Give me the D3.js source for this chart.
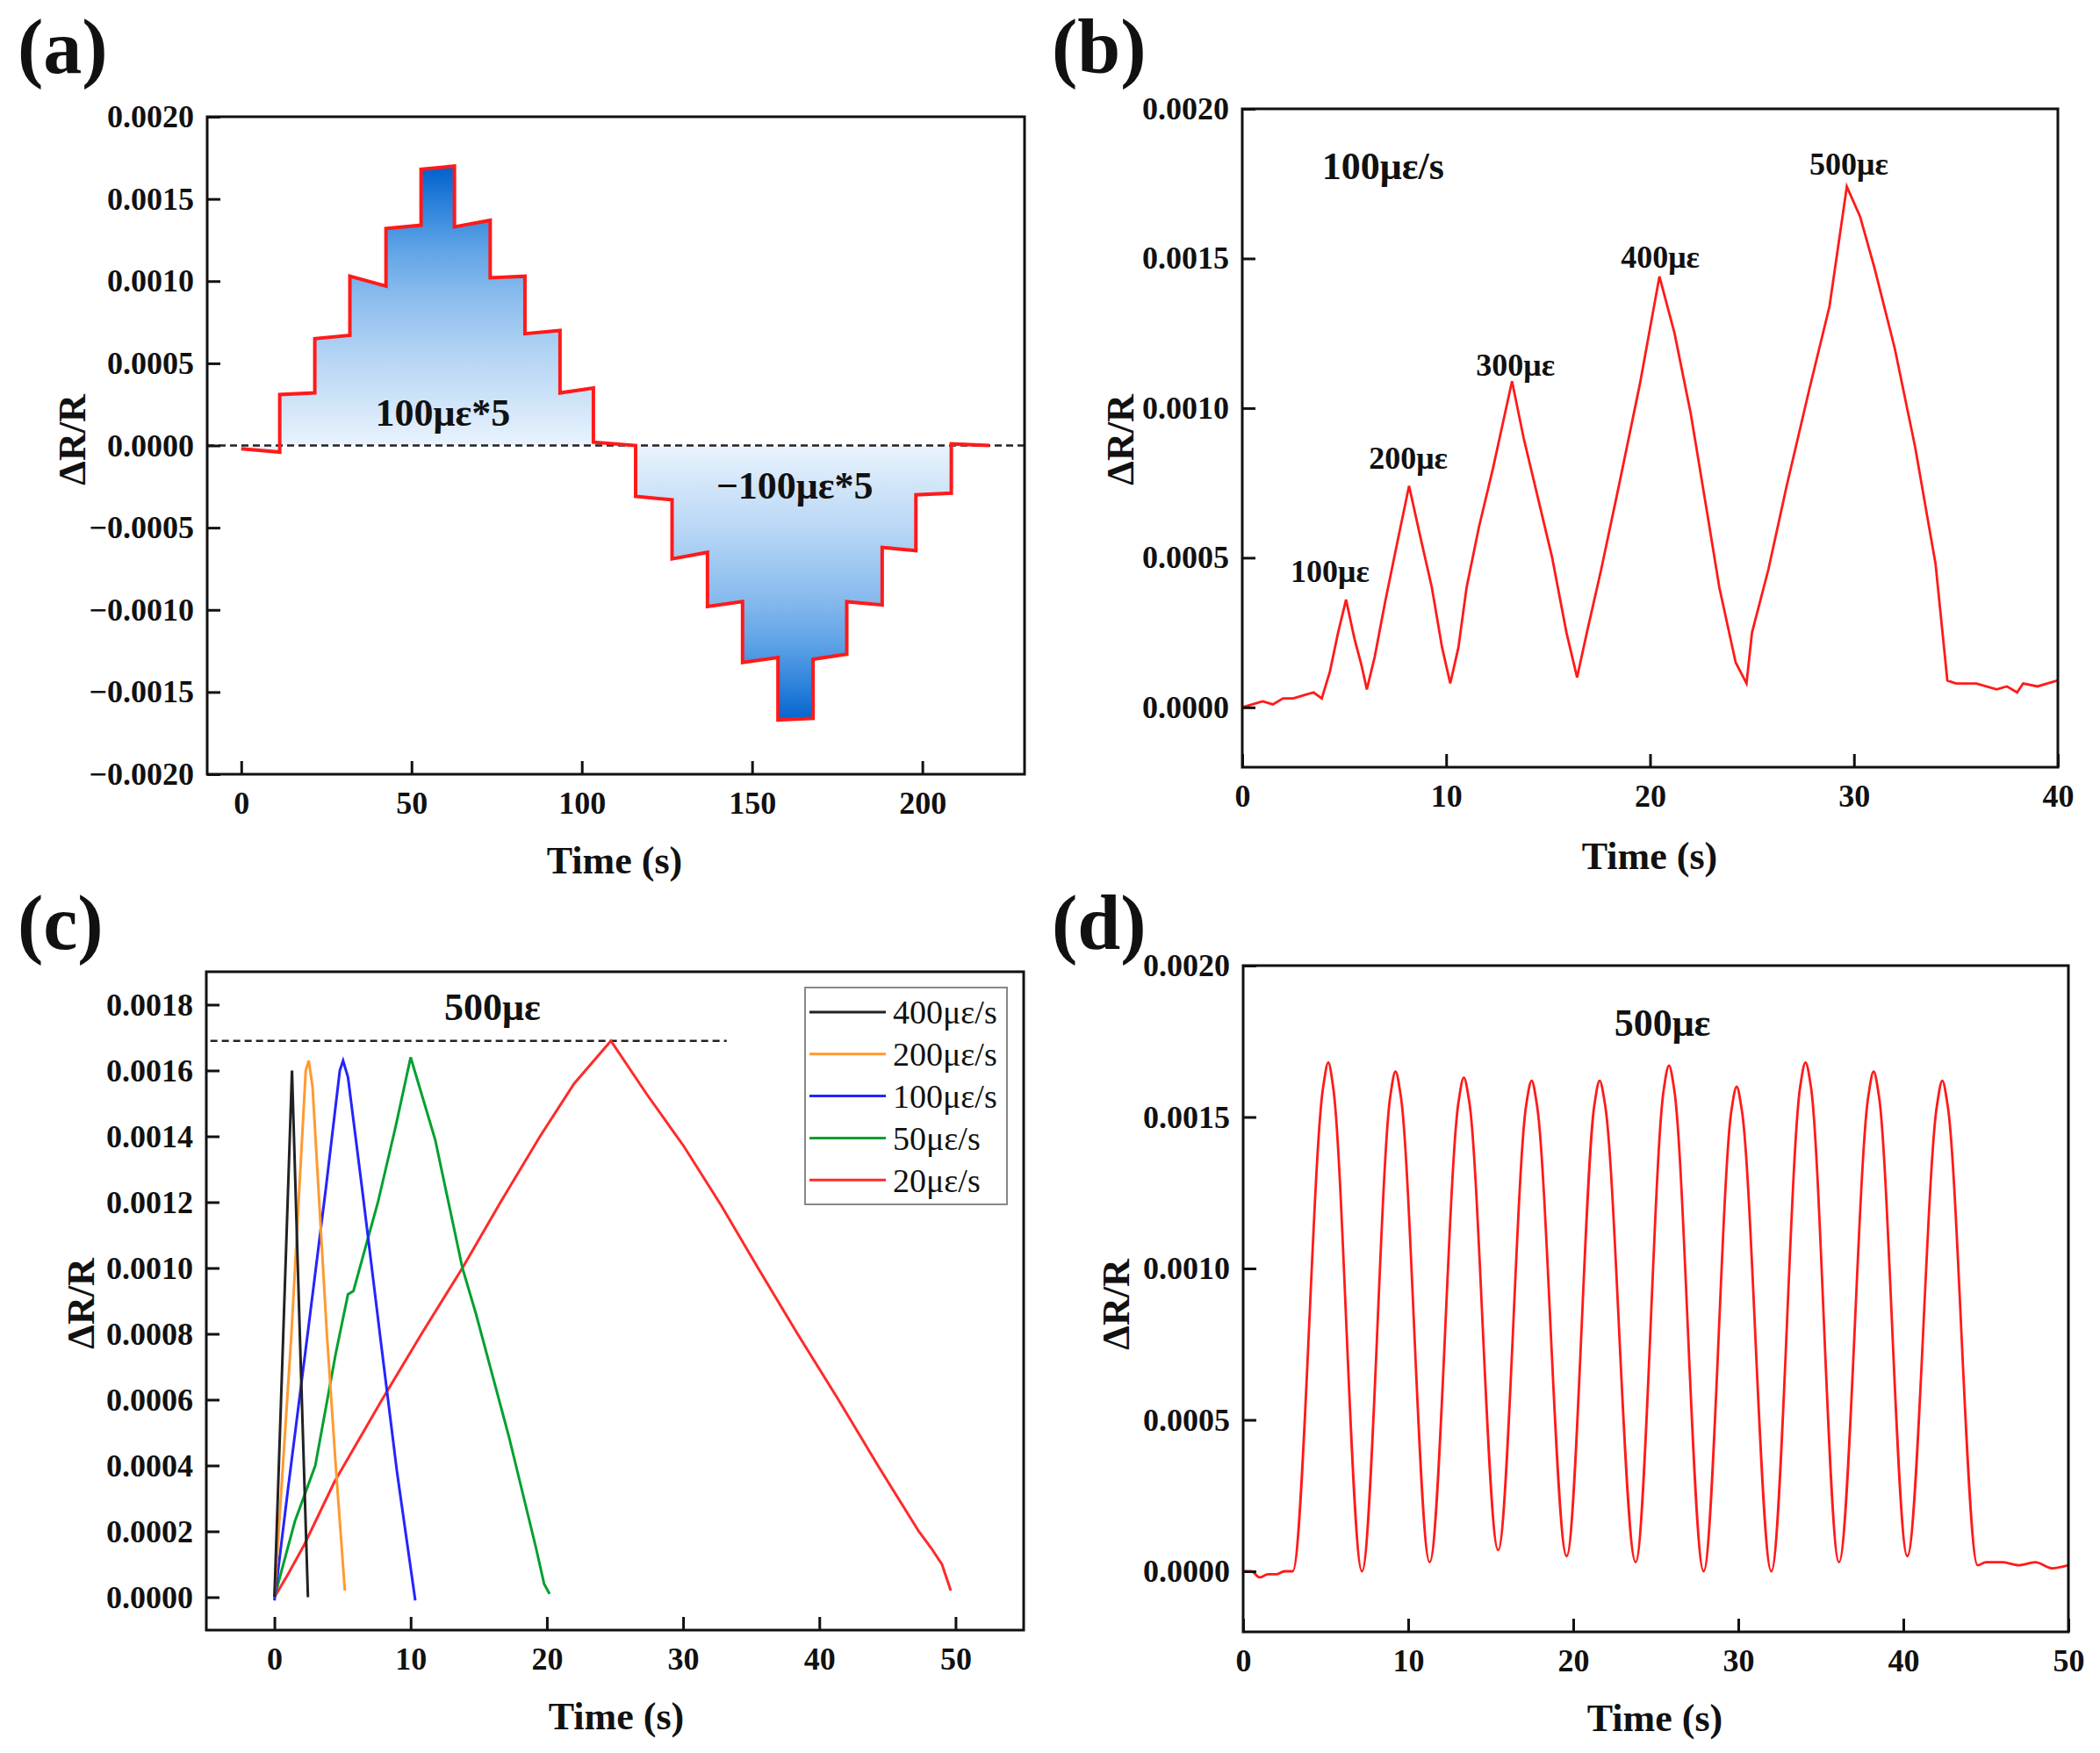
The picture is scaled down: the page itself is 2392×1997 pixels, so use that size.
<!DOCTYPE html>
<html>
<head>
<meta charset="utf-8">
<script src="https://cdn.jsdelivr.net/npm/d3@7"></script>
<style>
body { margin: 0; background: #fff; }
svg text { font-family: "Liberation Serif", "Times New Roman", serif; fill: #111; }
</style>
</head>
<body>
<div id="chart"></div>
<script>
// (a) stepwise strain, +100με*5 then -100με*5
var stepTimes = [0, 11.3, 21.6, 31.9, 42.5, 52.8, 62.6, 73.1, 83.3, 93.6, 103.4, 115.8,
	126.5, 136.9, 147.2, 157.6, 167.9, 177.8, 188.2, 198.1, 208.5, 219.7];
var stepStartVals = [-0.00002, 0.00031, 0.00065, 0.00103, 0.00132, 0.00168, 0.00133, 0.00102, 0.00068, 0.00032, 0.00002,
	-0.00031, -0.00069, -0.00098, -0.00132, -0.00167, -0.00130, -0.00095, -0.00062, -0.00030, 0.00001];
var stepEndVals = [-0.00004, 0.00032, 0.00067, 0.00097, 0.00134, 0.00170, 0.00137, 0.00103, 0.00070, 0.00035, 0.00000,
	-0.00033, -0.00065, -0.00095, -0.00129, -0.00166, -0.00127, -0.00097, -0.00064, -0.00029, 0.00000];

// (b) 100με/s ramps to 100..500με
var rampTimes = [0, 0.5, 1.0, 1.5, 2.0, 2.5, 3.0, 3.5, 3.9, 4.3, 4.7, 5.09, 5.5, 5.85, 6.11, 6.5, 7.0, 7.6, 8.18,
	8.7, 9.3, 9.8, 10.2, 10.6, 11.0, 11.6, 12.3, 13.23, 13.8, 14.5, 15.2, 15.9, 16.42, 16.9, 17.6, 18.5, 19.5,
	20.46, 21.2, 22.0, 22.8, 23.4, 24.2, 24.73, 25.0, 25.8, 26.7, 27.8, 28.8, 29.65, 30.3, 31.0, 32.0, 33.0,
	34.0, 34.58, 35.0, 36.0, 37.0, 37.5, 38.0, 38.3, 39.0, 40.0];
var rampVals = [0, 0.00001, 0.00002, 0.00001, 0.00003, 0.00003, 0.00004, 0.00005, 0.00003, 0.00012, 0.00025, 0.00036,
	0.00023, 0.00014, 0.00006, 0.00017, 0.00035, 0.00055, 0.00074, 0.00058, 0.00040, 0.00020, 0.00008, 0.00020,
	0.00040, 0.00060, 0.00080, 0.00109, 0.00090, 0.00070, 0.00050, 0.00025, 0.00010, 0.00025, 0.00046, 0.00075,
	0.00108, 0.00144, 0.00125, 0.00098, 0.00065, 0.00040, 0.00015, 0.00008, 0.00025, 0.00046, 0.00074, 0.00106,
	0.00134, 0.00174, 0.00164, 0.00147, 0.00120, 0.00087, 0.00048, 0.00009, 0.00008, 0.00008, 0.00006, 0.00007,
	0.00005, 0.00008, 0.00007, 0.00009];
var peakNames = ['100με', '200με', '300με', '400με', '500με'];
var peakNameTimes = [4.3, 8.14, 13.4, 20.5, 29.75];
var peakNameVals = [0.000419, 0.000797, 0.001107, 0.00147, 0.00178];

// (c) 500με at different strain rates
var rateNames = ['400με/s', '200με/s', '100με/s', '50με/s', '20με/s'];
var rateColors = ['#222222', '#ff9a30', '#2424ff', '#00a030', '#ff2a2a'];
var r400Times = [0, 0.65, 1.29, 1.9, 2.46];
var r400Vals = [0, 0.0008, 0.0016, 0.00075, 0.0];
var r200Times = [0, 1.25, 2.3, 2.52, 2.8, 3.85, 4.5, 5.17];
var r200Vals = [0, 0.0008, 0.0016, 0.00163, 0.00155, 0.0008, 0.0004, 0.00002];
var r100Times = [0, 1.0, 2.5, 3.8, 4.8, 5.04, 5.4, 6.5, 7.8, 9.0, 10.34];
var r100Vals = [-0.00001, 0.00033, 0.00082, 0.00125, 0.0016, 0.00163, 0.00158, 0.00122, 0.00078, 0.00038, -0.00001];
var r50Times = [0, 1.5, 3.0, 4.5, 5.4, 5.8, 7.6, 8.9, 10.0, 11.8, 13.8, 14.8, 17.2, 19.2, 19.8, 20.2];
var r50Vals = [0, 0.00023, 0.0004, 0.00074, 0.00092, 0.00093, 0.0012, 0.00143, 0.00164, 0.00139, 0.0010, 0.00086,
	0.00049, 0.00015, 0.00004, 0.00001];
var r20Times = [0, 1.0, 2.2, 4.4, 7.9, 10.8, 13.8, 16.6, 19.5, 22.0, 24.7, 27.3, 30.05, 32.8, 35.5, 38.4, 41.4,
	44.3, 47.3, 48.2, 49.0, 49.65];
var r20Vals = [0, 0.00007, 0.00016, 0.00035, 0.0006, 0.0008, 0.001, 0.0012, 0.0014, 0.00156, 0.00169, 0.00153,
	0.00137, 0.00119, 0.001, 0.0008, 0.0006, 0.0004, 0.0002, 0.00015, 0.0001, 0.00002];
var rateLevel = 0.00169;

// (d) ten cycles of 500με
var cycleTimes = [0, 0.5, 1.0, 1.5, 2.0, 2.5, 3.0,
	4.85, 5.16, 5.45, 7.2, 8.92, 9.23, 9.55, 11.3, 13.05, 13.37, 13.7, 15.45, 17.15, 17.48, 17.8, 19.6,
	21.28, 21.6, 21.93, 23.78, 25.48, 25.8, 26.12, 27.9, 29.58, 29.9, 30.22, 32.0, 33.75, 34.07, 34.4, 36.1,
	37.88, 38.2, 38.52, 40.24, 42.04, 42.36, 42.68, 44.5, 45.0, 46.0, 47.0, 48.0, 49.0, 50.0];
var cycleVals = [0, 0, -0.00002, -0.00001, -0.00001, 0, 0,
	0.0016, 0.00168, 0.0016, 0.0, 0.00157, 0.00165, 0.00157, 0.00003, 0.00155, 0.00163, 0.00155, 0.00007,
	0.00154, 0.00162, 0.00154, 0.00005, 0.00154, 0.00162, 0.00154, 0.00003, 0.00159, 0.00167, 0.00159, 0.0,
	0.00152, 0.0016, 0.00152, 0.0, 0.0016, 0.00168, 0.0016, 0.00003, 0.00157, 0.00165, 0.00157, 0.00005,
	0.00154, 0.00162, 0.00154, 0.00002, 0.00003, 0.00003, 0.00002, 0.00003, 0.00001, 0.00002];

var svg = d3.select('#chart').append('svg').attr('width', 2392).attr('height', 1997);
svg.append('rect').attr('width', 2392).attr('height', 1997).attr('fill', '#fff');
var fmt4 = d3.format('.4f');

function panel(left, top, right, bottom, xDom, yDom) {
	var g = svg.append('g').attr('transform', 'translate(' + left + ',' + top + ')');
	return {
		g: g, w: right - left, h: bottom - top,
		x: d3.scaleLinear().domain(xDom).range([0, right - left]),
		y: d3.scaleLinear().domain(yDom).range([bottom - top, 0])
	};
}

function axes(p, xMaj, xMin, yMaj, yMin) {
	var gx = p.g.append('g').attr('transform', 'translate(0,' + p.h + ')');
	gx.call(d3.axisBottom(p.x).tickValues(xMin).tickSize(-9).tickFormat(''));
	gx.call(d3.axisBottom(p.x).tickValues(xMaj).tickSize(-15).tickPadding(19).tickFormat(d3.format('d')));
	var gy = p.g.append('g');
	gy.call(d3.axisLeft(p.y).tickValues(yMin).tickSize(-9).tickFormat(''));
	gy.call(d3.axisLeft(p.y).tickValues(yMaj).tickSize(-15).tickPadding(15).tickFormat(fmt4));
	[gx, gy].forEach(function(a) {
		a.selectAll('.domain').remove();
		a.selectAll('line').attr('stroke', '#111').attr('stroke-width', 3);
		a.selectAll('text').attr('font-size', 36).attr('font-weight', 'bold')
			.attr('font-family', '"Liberation Serif", serif').attr('fill', '#111');
	});
	p.g.append('rect').attr('width', p.w).attr('height', p.h)
		.attr('fill', 'none').attr('stroke', '#111').attr('stroke-width', 3);
}

function titles(yLabX, yLabY, tX, tY) {
	svg.append('text').attr('transform', 'translate(' + yLabX + ',' + yLabY + ') rotate(-90)')
		.attr('text-anchor', 'middle').attr('font-size', 44).attr('font-weight', 'bold').text('ΔR/R');
	svg.append('text').attr('x', tX).attr('y', tY)
		.attr('text-anchor', 'middle').attr('font-size', 44).attr('font-weight', 'bold').text('Time (s)');
}

function tag(label, x, y) {
	svg.append('text').attr('x', x).attr('y', y).attr('font-size', 88).attr('font-weight', 'bold').text(label);
}

function note(p, t, v, txt, size) {
	p.g.append('text').attr('x', p.x(t)).attr('y', p.y(v)).attr('text-anchor', 'middle')
		.attr('font-size', size).attr('font-weight', 'bold').text(txt);
}

function clip(p, id) {
	svg.append('clipPath').attr('id', id).append('rect').attr('width', p.w).attr('height', p.h);
	return p.g.append('g').attr('clip-path', 'url(#' + id + ')');
}

// ---------- (a)
var pa = panel(236, 133, 1167, 882, [-10, 230], [-0.002, 0.002]);
var ptsA = [];
stepStartVals.forEach(function(v, i) {
	ptsA.push([stepTimes[i], v]);
	ptsA.push([stepTimes[i + 1], stepEndVals[i]]);
});
var grad = svg.append('defs').append('linearGradient').attr('id', 'blueFill')
	.attr('gradientUnits', 'userSpaceOnUse').attr('x1', 0).attr('x2', 0)
	.attr('y1', pa.y(0.0017)).attr('y2', pa.y(-0.0017));
var gStops = [[0.0017, '#0060cc'], [0.00145, '#2f84dc'], [0.0012, '#5fa3e6'], [0.0009, '#8bbdee'],
	[0.0005, '#b9d7f5'], [0, '#e9f3fd'], [-0.0005, '#b9d7f5'], [-0.0009, '#8bbdee'], [-0.0012, '#5fa3e6'],
	[-0.00145, '#2f84dc'], [-0.0017, '#0060cc']];
gStops.forEach(function(s) {
	grad.append('stop').attr('offset', (pa.y(s[0]) - pa.y(0.0017)) / (pa.y(-0.0017) - pa.y(0.0017)))
		.attr('stop-color', s[1]);
});
var ca = clip(pa, 'clipA');
ca.append('path').datum(ptsA)
	.attr('d', d3.area().x(function(d) { return pa.x(d[0]); }).y0(pa.y(0)).y1(function(d) { return pa.y(d[1]); }))
	.attr('fill', 'url(#blueFill)');
ca.append('line').attr('x1', 0).attr('x2', pa.w).attr('y1', pa.y(0)).attr('y2', pa.y(0))
	.attr('stroke', '#222').attr('stroke-width', 2.5).attr('stroke-dasharray', '8,5');
ca.append('path').datum(ptsA)
	.attr('d', d3.line().x(function(d) { return pa.x(d[0]); }).y(function(d) { return pa.y(d[1]); }))
	.attr('fill', 'none').attr('stroke', '#ff1a1a').attr('stroke-width', 4);
axes(pa, d3.range(0, 201, 50), d3.range(0, 226, 25), d3.range(-0.002, 0.00201, 0.0005), d3.range(-0.00175, 0.0018, 0.0005));
note(pa, 59.2, 0.00012, '100με*5', 44);
note(pa, 162.5, -0.000323, '−100με*5', 44);
titles(97, 501, 700, 995);
tag('(a)', 20, 83);

// ---------- (b)
var pb = panel(1415, 124, 2344, 874, [0, 40], [-0.0002, 0.002]);
var cb = clip(pb, 'clipB');
cb.append('path').datum(d3.zip(rampTimes, rampVals))
	.attr('d', d3.line().x(function(d) { return pb.x(d[0]); }).y(function(d) { return pb.y(d[1]); }))
	.attr('fill', 'none').attr('stroke', '#ff1a1a').attr('stroke-width', 2.8);
axes(pb, d3.range(0, 41, 10), d3.range(0, 41, 5), d3.range(0, 0.00201, 0.0005), [0.00025, 0.00075, 0.00125, 0.00175]);
note(pb, 6.9, 0.001766, '100με/s', 44);
peakNames.forEach(function(n, i) { note(pb, peakNameTimes[i], peakNameVals[i], n, 36); });
titles(1291, 501, 1879, 990);
tag('(b)', 1198, 83);

// ---------- (c)
var pc = panel(235, 1107, 1166, 1857, [-5, 55], [-0.0001, 0.0019]);
var cc = clip(pc, 'clipC');
cc.append('line').attr('x1', pc.x(-4.7)).attr('x2', pc.x(33.2)).attr('y1', pc.y(rateLevel)).attr('y2', pc.y(rateLevel))
	.attr('stroke', '#222').attr('stroke-width', 2.5).attr('stroke-dasharray', '8,5');
var rateSeries = [[r400Times, r400Vals], [r200Times, r200Vals], [r100Times, r100Vals], [r50Times, r50Vals], [r20Times, r20Vals]];
var lineC = d3.line().x(function(d) { return pc.x(d[0]); }).y(function(d) { return pc.y(d[1]); });
// slow rates first so the fast ones sit on top
for (var k = rateSeries.length - 1; k >= 0; k--) {
	cc.append('path').datum(d3.zip(rateSeries[k][0], rateSeries[k][1])).attr('d', lineC)
		.attr('fill', 'none').attr('stroke', rateColors[k]).attr('stroke-width', 3);
}
axes(pc, d3.range(0, 51, 10), d3.range(0, 51, 5), d3.range(0, 0.00181, 0.0002), d3.range(0, 0.00181, 0.0001));
note(pc, 16.0, 0.001754, '500με', 44);
var leg = pc.g.append('g').attr('transform', 'translate(' + (pc.w - 249) + ',18)');
leg.append('rect').attr('width', 230).attr('height', 247).attr('fill', '#fff')
	.attr('stroke', '#888').attr('stroke-width', 2);
rateNames.forEach(function(n, i) {
	var ly = 28 + i * 47.8;
	leg.append('line').attr('x1', 5).attr('x2', 92).attr('y1', ly).attr('y2', ly)
		.attr('stroke', rateColors[i]).attr('stroke-width', 3);
	leg.append('text').attr('x', 100).attr('y', ly).attr('dy', '0.35em').attr('font-size', 38)
		.attr('fill', '#222').text(n);
});
titles(107, 1485, 702, 1970);
tag('(c)', 20, 1081);

// ---------- (d)
var pd = panel(1416, 1100, 2356, 1859, [0, 50], [-0.0002, 0.002]);
var cd = clip(pd, 'clipD');
cd.append('path').datum(d3.zip(cycleTimes, cycleVals))
	.attr('d', d3.line().curve(d3.curveMonotoneX).x(function(d) { return pd.x(d[0]); }).y(function(d) { return pd.y(d[1]); }))
	.attr('fill', 'none').attr('stroke', '#ff1a1a').attr('stroke-width', 2.8);
axes(pd, d3.range(0, 51, 10), d3.range(0, 51, 5), d3.range(0, 0.00201, 0.0005), [0.00025, 0.00075, 0.00125, 0.00175]);
note(pd, 25.4, 0.001767, '500με', 44);
titles(1286, 1486, 1885, 1972);
tag('(d)', 1198, 1081);
</script>
</body>
</html>
